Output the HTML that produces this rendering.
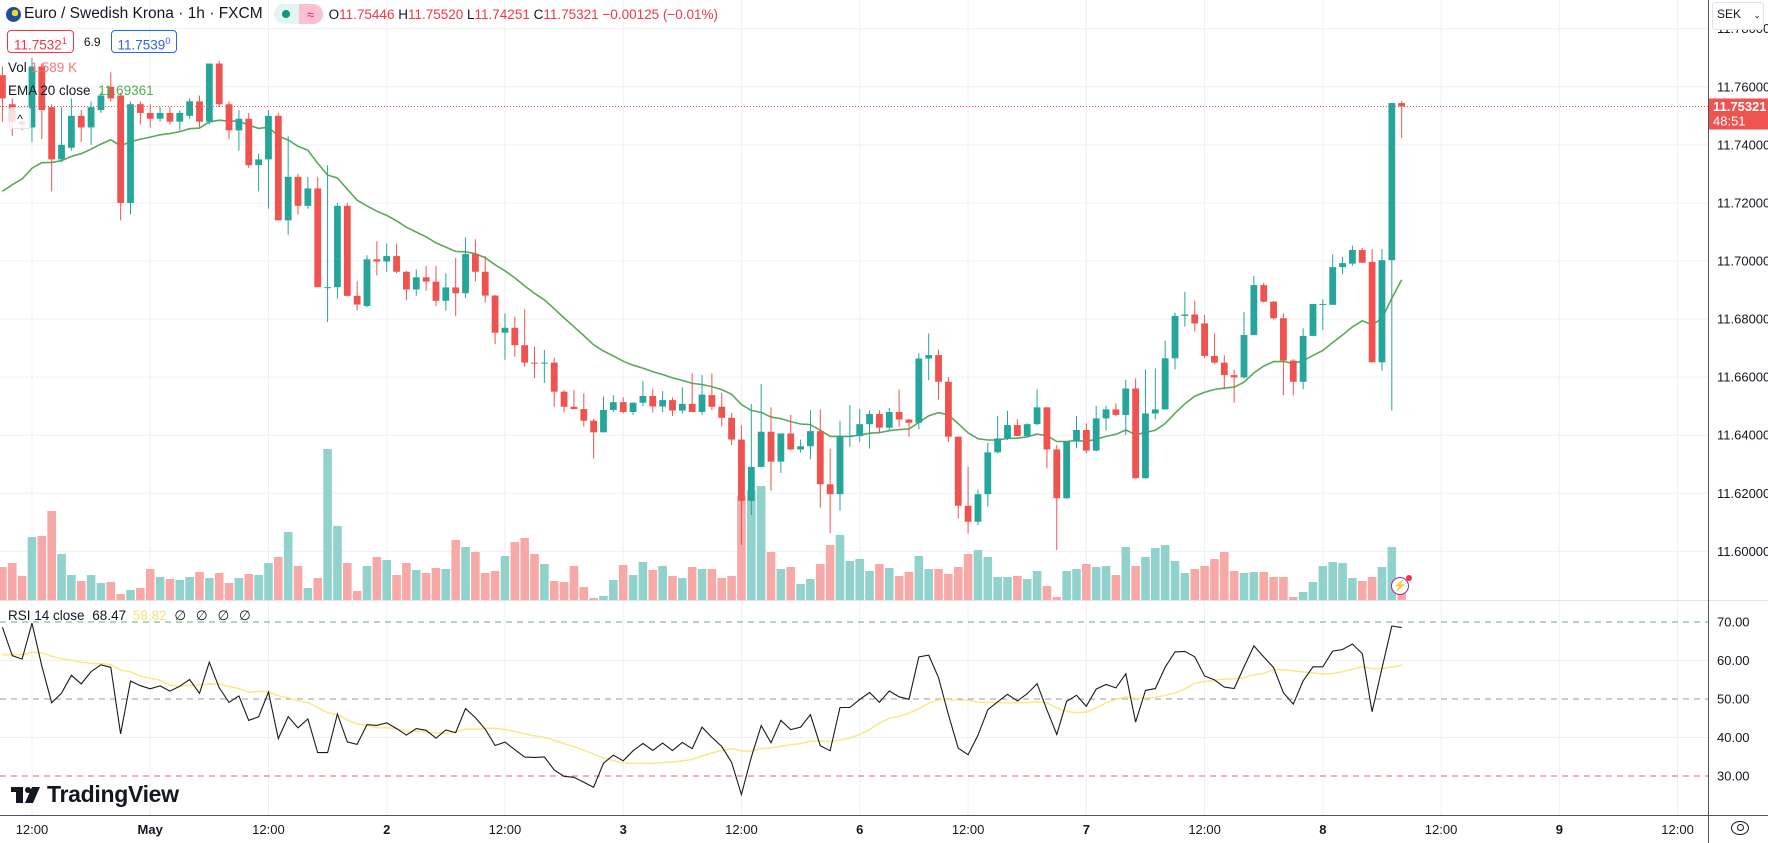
<!DOCTYPE html>
<html><head><meta charset="utf-8">
<style>
html,body{margin:0;padding:0;background:#fff;}
body{width:1768px;height:843px;overflow:hidden;position:relative;font-family:"Liberation Sans",sans-serif;color:#131722;}
svg{position:absolute;left:0;top:0;}
.t{font-family:"Liberation Sans",sans-serif;}
</style></head>
<body>
<svg id="chart" width="1768" height="843" viewBox="0 0 1768 843" xmlns="http://www.w3.org/2000/svg"></svg>
<script>
// ---- data ----
const opens=[11.764,11.754,11.748,11.746,11.767,11.753,11.735,11.739,11.750,11.746,11.752,11.760,11.757,11.720,11.754,11.751,11.749,11.751,11.748,11.750,11.755,11.748,11.768,11.754,11.745,11.749,11.733,11.735,11.750,11.714,11.729,11.719,11.725,11.691,11.691,11.719,11.688,
11.6845,11.7006,11.6998,11.7017,11.6963,11.6902,11.6944,11.6929,11.6863,11.6909,11.6889,11.7024,11.6963,11.6881,11.6753,11.677,11.671,11.665,11.6648,11.665,11.655,11.6498,11.649,11.645,11.641,11.6487,11.6514,11.648,11.6512,11.6535,11.6499,11.6521,11.6485,11.6508,11.648,
11.6538,11.6498,11.646,11.6385,11.6174,11.6291,11.6412,11.6309,11.6406,11.6351,11.6362,11.6414,11.6231,11.6197,11.6397,11.6397,11.6438,11.6473,11.6426,11.648,11.6454,11.6443,11.6664,11.6676,11.6584,11.6395,11.6157,11.6102,11.6197,11.6341,11.6389,11.6435,11.6397,11.6438,11.6496,11.6351,
11.6183,11.6378,11.6418,11.6347,11.6458,11.6489,11.647,11.6561,11.6252,11.6475,11.6489,11.6665,11.6811,11.6816,11.6785,11.6673,11.665,11.6607,11.6599,11.6745,11.6917,11.686,11.6803,11.6657,11.6584,11.6742,11.6852,
11.6849,11.6979,11.6991,11.7038,11.6997,11.6651,11.7003,11.7544];
const highs=[11.767,11.756,11.750,11.770,11.768,11.754,11.753,11.756,11.752,11.755,11.758,11.765,11.758,11.755,11.755,11.754,11.753,11.753,11.752,11.756,11.757,11.768,11.769,11.755,11.752,11.751,11.737,11.752,11.751,11.743,11.730,11.729,11.729,11.733,11.720,11.720,11.693,
11.702,11.7067,11.706,11.706,11.6966,11.6971,11.6983,11.6983,11.6958,11.701,11.7082,11.7075,11.7017,11.6883,11.682,11.6808,11.6834,11.6705,11.6694,11.6667,11.6556,11.6556,11.6544,11.6456,11.6533,11.6538,11.653,11.6513,11.6587,11.656,11.6552,11.653,11.6565,11.6613,11.6607,
11.6613,11.6546,11.6477,11.6435,11.6507,11.6576,11.6496,11.6406,11.647,11.6385,11.6486,11.6489,11.6354,11.645,11.6504,11.649,11.6486,11.6486,11.6494,11.6558,11.6456,11.6682,11.6751,11.6695,11.66,11.6395,11.6291,11.6213,11.6375,11.6466,11.6484,11.6455,11.6441,11.6558,11.6497,11.6366,
11.638,11.6466,11.6441,11.6501,11.6501,11.651,11.6592,11.6596,11.6627,11.663,11.6726,11.6822,11.6894,11.6863,11.6814,11.6751,11.6676,11.6625,11.6825,11.6948,11.6925,11.6862,11.682,11.6662,11.6768,11.6852,11.6868,
11.7023,11.7015,11.7053,11.7045,11.7041,11.7041,11.7544,11.7551];
const lows=[11.748,11.743,11.745,11.741,11.742,11.724,11.734,11.738,11.741,11.740,11.751,11.755,11.714,11.716,11.747,11.746,11.748,11.747,11.745,11.749,11.746,11.747,11.753,11.742,11.738,11.732,11.724,11.718,11.714,11.709,11.716,11.718,11.691,11.679,11.687,11.688,11.683,
11.684,11.695,11.6963,11.6958,11.6866,11.688,11.6898,11.6845,11.6829,11.681,11.6872,11.693,11.6857,11.6714,11.666,11.667,11.6636,11.6596,11.658,11.6498,11.6478,11.649,11.643,11.632,11.6409,11.648,11.6475,11.647,11.65,11.6478,11.648,11.6466,11.6475,11.648,11.647,
11.6486,11.6429,11.6366,11.6022,11.6125,11.6289,11.6209,11.627,11.6348,11.634,11.6317,11.6151,11.6062,11.614,11.636,11.6377,11.6354,11.6406,11.6415,11.6429,11.6395,11.642,11.659,11.6523,11.6377,11.6113,11.6062,11.609,11.6154,11.6337,11.6383,11.6397,11.6392,11.6435,11.6286,11.6004,
11.618,11.6355,11.6338,11.6343,11.6416,11.6466,11.6401,11.625,11.625,11.6455,11.6489,11.6627,11.6774,11.6757,11.6668,11.6645,11.6558,11.6512,11.6596,11.6745,11.6857,11.6799,11.6538,11.6538,11.6558,11.6742,11.6762,
11.6849,11.6954,11.6983,11.6994,11.6651,11.6622,11.6485,11.7423];
const closes=[11.756,11.748,11.747,11.767,11.752,11.735,11.740,11.750,11.746,11.753,11.757,11.756,11.720,11.754,11.751,11.749,11.751,11.748,11.751,11.755,11.748,11.768,11.754,11.745,11.749,11.733,11.735,11.750,11.714,11.729,11.719,11.725,11.691,11.691,11.719,11.688,11.685,
11.7006,11.6998,11.7017,11.6963,11.6902,11.6944,11.6929,11.6863,11.6909,11.6889,11.7024,11.6963,11.6881,11.6753,11.677,11.671,11.665,11.6648,11.665,11.655,11.6498,11.649,11.645,11.641,11.6487,11.6514,11.648,11.6512,11.6535,11.6499,11.6521,11.6485,11.6508,11.648,11.654,
11.6498,11.646,11.6385,11.6174,11.6291,11.6412,11.6309,11.6406,11.6351,11.6362,11.6414,11.6231,11.6197,11.6397,11.6397,11.6438,11.6473,11.6426,11.648,11.6454,11.6443,11.6664,11.6676,11.6584,11.6395,11.6157,11.6102,11.6197,11.6341,11.6389,11.6435,11.6397,11.6438,11.6496,11.6351,11.6183,
11.6378,11.6418,11.6347,11.6458,11.6489,11.647,11.6561,11.6252,11.6475,11.6489,11.6665,11.6811,11.6816,11.6785,11.6673,11.665,11.6607,11.6599,11.6745,11.6917,11.686,11.6803,11.6657,11.6584,11.6742,11.6852,11.6852,
11.6979,11.6993,11.7038,11.6994,11.6651,11.7003,11.7544,11.75321];
const volumes=[33,37,24,63,64,89,46,25,19,25,17,18,6,10,12,31,23,21,20,23,28,22,27,17,22,26,25,37,43,68,34,12,22,151,74,37,9,
34,43,40,25,37,30,27,32,31,60,53,48,27,29,44,58,62,46,36,19,18,34,13,2,4,20,35,25,38,30,34,24,22,33,31,
31,22,24,104,110,114,48,31,33,16,21,36,55,65,39,41,29,36,32,24,28,44,31,31,26,33,46,50,43,23,23,24,21,29,14,3,
29,31,36,33,34,25,53,34,43,52,55,39,27,31,34,41,48,29,27,28,28,23,23,3,8,18,34,
38,37,22,19,23,33,53,12];
const priceTicks=[11.60,11.62,11.64,11.66,11.68,11.70,11.72,11.74,11.76,11.78];
const rsiTicks=[30,40,50,60,70];
const timeTickIdx=[3,15,27,39,51,63,75,87,98,110,122,134,146,158,170];
const timeTickLabels=["12:00","May","12:00","2","12:00","3","12:00","6","12:00","7","12:00","8","12:00","9","12:00"];
const emaSeed=11.724, rsiGainSeed=0.0035, rsiLossSeed=0.0016, rsiMaSeed=61;

// ---- scales ----
const X0=2.4, DX=9.854, PLOT_R=1708;
const xOf=i=>X0+i*DX;
const yP=p=>86.8+(11.76-p)*2903.5;
const yV=v=>600-v*1.0;
const yR=r=>699-(r-50)*3.85;

const svg=document.getElementById('chart');
const NS='http://www.w3.org/2000/svg';
function mk(tag,attrs,parent){const e=document.createElementNS(NS,tag);for(const k in attrs)e.setAttribute(k,attrs[k]);(parent||svg).appendChild(e);return e;}

// grid
const grid=mk('g',{});


priceTicks.forEach(p=>{mk('line',{x1:0,x2:PLOT_R,y1:yP(p),y2:yP(p),stroke:'#eef0f5','stroke-width':1},grid);});
[40,60].forEach(r=>{mk('line',{x1:0,x2:PLOT_R,y1:yR(r),y2:yR(r),stroke:'#eef0f5','stroke-width':1},grid);});
timeTickIdx.forEach(i=>{mk('line',{x1:xOf(i),x2:xOf(i),y1:0,y2:815,stroke:'#eef0f5','stroke-width':1},grid);});

// volume bars
const vg=mk('g',{});


volumes.forEach((v,i)=>{
  const up=closes[i]>=opens[i];
  const r=mk('rect',{x:xOf(i)-4.3,y:yV(v),width:8.6,height:600-yV(v),fill:up?'#92d2cc':'#f7a9a7'},vg);
  
  
});

// EMA 20
let ema=emaSeed;const emaPts=[];
closes.forEach((c,i)=>{if(i>0)ema=c*2/21+ema*19/21;emaPts.push(xOf(i).toFixed(1)+','+yP(ema).toFixed(1));});
const emaLine=mk('polyline',{points:emaPts.join(' '),fill:'none',stroke:'#5aa85a','stroke-width':1.6});



// candles
const cg=mk('g',{});


opens.forEach((o,i)=>{
  const c=closes[i],up=c>=o,col=up?'#26a69a':'#ef5350',x=xOf(i);
  const w=mk('line',{x1:x,x2:x,y1:yP(highs[i]),y2:yP(lows[i]),stroke:col,'stroke-width':1},cg);
  
  
  const top=yP(Math.max(o,c)),bot=yP(Math.min(o,c));
  const b=mk('rect',{x:x-3.4,y:top,width:6.8,height:Math.max(1,bot-top),fill:col},cg);
  
  
});

// last price dotted line
const lastC=closes[closes.length-1];
const lp=mk('line',{x1:0,x2:PLOT_R,y1:yP(lastC),y2:yP(lastC),stroke:'#ef5350','stroke-width':1,'stroke-dasharray':'1 2'});



// pane separators & axes
mk('line',{x1:0,x2:1768,y1:600.5,y2:600.5,stroke:'#e0e3eb','stroke-width':1});
mk('line',{x1:0,x2:1768,y1:815.5,y2:815.5,stroke:'#50535e','stroke-width':1});
mk('line',{x1:1708.5,x2:1708.5,y1:0,y2:843,stroke:'#50535e','stroke-width':1});

// RSI
let ag=rsiGainSeed,al=rsiLossSeed;const rsi=[];
closes.forEach((c,i)=>{if(i>0){const d=c-closes[i-1];ag=(ag*13+Math.max(d,0))/14;al=(al*13+Math.max(-d,0))/14;}rsi.push(100-100/(1+ag/al));});
const rsiMa=rsi.map((r,i)=>{let s=0;for(let k=i-13;k<=i;k++)s+=k<0?rsiMaSeed:rsi[k];return s/14;});
const bands=[[70,'#6aa87a'],[50,'#9598a1'],[30,'#e06666']];
bands.forEach(b=>{const l=mk('line',{x1:0,x2:PLOT_R,y1:yR(b[0]),y2:yR(b[0]),stroke:b[1],'stroke-width':1,'stroke-dasharray':'6 5'});
  
  });
const maL=mk('polyline',{points:rsiMa.map((r,i)=>xOf(i).toFixed(1)+','+yR(r).toFixed(1)).join(' '),fill:'none',stroke:'#f7e88a','stroke-width':1.5});


const rL=mk('polyline',{points:rsi.map((r,i)=>xOf(i).toFixed(1)+','+yR(r).toFixed(1)).join(' '),fill:'none',stroke:'#1a1a1a','stroke-width':1.1});



// price axis labels
priceTicks.forEach(p=>{const t=mk('text',{x:1717,y:yP(p)+4.5,'font-size':13,fill:'#131722',class:'t'});t.textContent=p.toFixed(5);
  
  });
rsiTicks.forEach(r=>{const t=mk('text',{x:1717,y:yR(r)+4.5,'font-size':13,fill:'#131722',class:'t'});t.textContent=r.toFixed(2);
  
  });
// time labels
timeTickIdx.forEach((i,k)=>{const t=mk('text',{x:xOf(i),y:834,'font-size':13,fill:'#131722','text-anchor':'middle',class:'t','font-weight':timeTickLabels[k].length<4?'bold':'normal'});t.textContent=timeTickLabels[k];
  
  });

// current price tag
const ly=yP(lastC);
const tag=mk('g',{});


mk('rect',{x:1709,y:ly-8,width:59,height:31,fill:'#ef5350'},tag);
const tt=mk('text',{x:1713,y:ly+4.5,'font-size':13,fill:'#fff','font-weight':'bold',class:'t'},tag);tt.textContent=lastC.toFixed(5);
const tc=mk('text',{x:1713,y:ly+19,'font-size':13,fill:'#fff',class:'t'},tag);tc.textContent='48:51';
</script>

<!-- header overlays -->
<div style="position:absolute;left:6px;top:3px;height:22px;display:flex;align-items:center;white-space:nowrap;">
  <div style="width:15px;height:15px;border-radius:50%;background:radial-gradient(circle at 60% 40%,#f9d616 0 25%,#1d4f9c 26%);margin-right:3px;"></div>
  <span style="font-size:15.5px;color:#131722;">Euro / Swedish Krona · 1h · FXCM</span>
  <div style="margin-left:11px;width:49px;height:20px;border-radius:10px;background:#e6f4f1;display:flex;overflow:hidden;">
    <div style="width:25px;display:flex;align-items:center;justify-content:center;"><div style="width:8px;height:8px;border-radius:50%;background:#089981;"></div></div>
    <div style="width:24px;background:#f7c1d1;color:#e91e63;font-size:13px;display:flex;align-items:center;justify-content:center;">≈</div>
  </div>
  <span style="margin-left:6px;font-size:13.5px;color:#131722;">O<span style="color:#f23645">11.75446</span> H<span style="color:#f23645">11.75520</span> L<span style="color:#f23645">11.74251</span> C<span style="color:#f23645">11.75321</span> <span style="color:#f23645">−0.00125 (−0.01%)</span></span>
</div>
<div style="position:absolute;left:7px;top:30px;display:flex;align-items:center;font-size:13.5px;">
  <div style="border:1px solid #f23645;border-radius:4px;color:#f23645;padding:2px 6px;height:17px;line-height:17px;">11.7532<sup style="font-size:9px">1</sup></div>
  <span style="margin:0 10px;font-size:12px;">6.9</span>
  <div style="border:1px solid #2962ff;border-radius:4px;color:#2962ff;padding:2px 6px;height:17px;line-height:17px;">11.7539<sup style="font-size:9px">0</sup></div>
</div>
<div style="position:absolute;left:8px;top:60px;font-size:13.5px;color:#131722;">Vol <span style="color:#f27774">1.589 K</span></div>
<div style="position:absolute;left:8px;top:83px;font-size:13.5px;color:#131722;">EMA 20 close <span style="color:#4caf50;margin-left:4px">11.69361</span></div>
<div style="position:absolute;left:9px;top:107px;width:20px;height:20px;border:1px solid #e0e3eb;border-radius:3px;background:rgba(255,255,255,0.8);font-size:12px;text-align:center;line-height:22px;">^</div>
<div style="position:absolute;left:8px;top:608px;font-size:13.5px;color:#131722;">RSI 14 close <span style="margin-left:4px">68.47</span> <span style="color:#f2e47a;margin-left:3px">58.82</span> <span style="margin-left:4px;letter-spacing:3px">∅ ∅ ∅ ∅</span></div>
<div style="position:absolute;left:11px;top:781px;display:flex;align-items:center;">
  <svg width="30" height="20" viewBox="0 0 30 20" style="position:static"><rect x="0" y="2" width="12" height="5" fill="#131722"/><rect x="5" y="2" width="7" height="16" fill="#131722"/><circle cx="17" cy="5" r="3" fill="#131722"/><polygon points="21,2 29,2 22,18 14,18" fill="#131722"/></svg>
  <span style="font-size:23px;font-weight:bold;color:#131722;margin-left:6px;letter-spacing:-0.3px;">TradingView</span>
</div>
<div style="position:absolute;left:1712px;top:2px;width:52px;height:28px;border:1px solid #e0e3eb;border-radius:3px;background:#fff;font-size:12px;line-height:22px;padding-left:4px;box-sizing:border-box;">SEK <span style="font-size:9px;margin-left:9px">⌄</span></div>
<div style="position:absolute;left:1391px;top:577px;width:16px;height:16px;border:1.5px solid #9c27b0;border-radius:50%;background:#fff;color:#9c27b0;font-size:11px;line-height:16px;text-align:center;">⚡<div style="position:absolute;right:-4px;top:-3px;width:6px;height:6px;border-radius:50%;background:#f23645;"></div></div>
<div style="position:absolute;left:1731px;top:821px;width:18px;height:14px;border:1.5px solid #131722;border-radius:50%/50%;box-sizing:border-box;"><div style="width:5px;height:5px;border:1.5px solid #131722;border-radius:50%;margin:2px auto;"></div></div>
</body></html>
